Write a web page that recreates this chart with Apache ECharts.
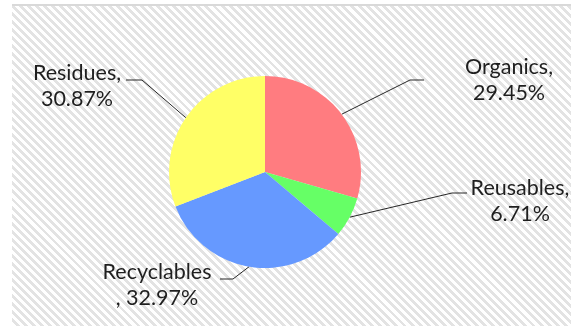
<!DOCTYPE html>
<html>
<head>
<meta charset="utf-8">
<script src="https://cdn.jsdelivr.net/npm/echarts@6/dist/echarts.min.js"></script>
<style>
  html, body { margin: 0; padding: 0; background: #ffffff; }
  #wrap { position: relative; width: 571px; height: 326px; overflow: hidden; }
  #bg {
    position: absolute; left: 12px; top: 4px; right: 0; bottom: 0;
    border-top: 2px solid #d9d9d9;
    background: repeating-linear-gradient(45deg, #ffffff 0px, #ffffff 2.9px, #e3e3e3 2.9px, #e3e3e3 5.7px);
  }
  #chart { position: absolute; left: 0; top: 0; width: 571px; height: 326px; }
</style>
</head>
<body>
<div id="wrap">
  <div id="bg"></div>
  <div id="chart"></div>
</div>
<script>
// ---- data ----
var categories = ['Organics', 'Reusables', 'Recyclables', 'Residues'];
var shares = [29.45, 6.71, 32.97, 30.87];
var colors = ['#FF7C80', '#66FF66', '#6699FF', '#FFFF66'];

// ---- layout (label anchor boxes, pixels) ----
var labelPos = {
  'Organics':    { x: 509, y: 80,  elbow: [410, 80],  end: [424, 80] },
  'Reusables':   { x: 520, y: 201, elbow: [452, 193], end: [467, 193] },
  'Recyclables': { x: 157, y: 285, elbow: [233, 279], end: [220, 279] },
  'Residues':    { x: 77,  y: 86,  elbow: [142, 80],  end: [126, 80] }
};

var chart = echarts.init(document.getElementById('chart'), null, { renderer: 'canvas' });

var seriesData = categories.map(function (c, i) {
  return { name: c, value: shares[i], itemStyle: { color: colors[i] } };
});

chart.setOption({
  backgroundColor: 'transparent',
  animation: false,
  series: [{
    type: 'pie',
    center: [265, 172],
    radius: 96,
    startAngle: 90,
    clockwise: true,
    data: seriesData,
    itemStyle: { borderWidth: 0 },
    label: {
      show: true,
      position: 'outside',
      fontFamily: 'Lato',
      fontSize: 21.5,
      lineHeight: 26,
      color: '#1f1f1f',
      align: 'center',
      formatter: function (p) {
        var pct = p.percent.toFixed(2) + '%';
        // long names wrap before the comma, short names after it
        return p.name.length > 10 ? p.name + '\n, ' + pct : p.name + ',\n' + pct;
      }
    },
    labelLine: {
      show: true,
      length: 20,
      length2: 10,
      smooth: false,
      lineStyle: { color: '#262626', width: 1 }
    },
    labelLayout: function (params) {
      var name = categories[params.dataIndex];
      var lp = labelPos[name];
      var start = params.labelLinePoints ? params.labelLinePoints[0] : null;
      var out = {
        x: lp.x,
        y: lp.y,
        align: 'center',
        verticalAlign: 'middle'
      };
      if (start) {
        out.labelLinePoints = [start, lp.elbow, lp.end];
      }
      return out;
    }
  }]
});
</script>
</body>
</html>
